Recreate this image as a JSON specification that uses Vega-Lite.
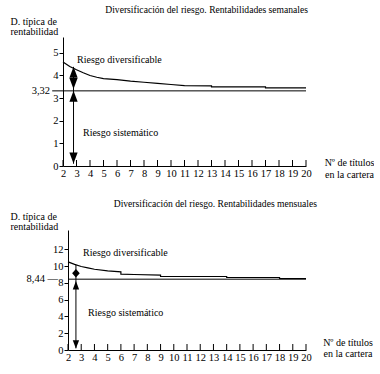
{
  "$schema": "https://vega.github.io/schema/vega-lite/v6.json",
  "padding": {"left": 10, "top": 4, "right": 0, "bottom": 0},
  "spacing": 20,
  "config": {
    "font": "Liberation Serif, Times New Roman, Times, serif",
    "view": {"stroke": null},
    "axis": {"grid": false, "domainColor": "black", "tickColor": "black", "labelColor": "black", "titleColor": "black", "labelFont": "Liberation Serif, Times New Roman, Times, serif", "titleFont": "Liberation Serif, Times New Roman, Times, serif", "labelFontSize": 10.5, "titleFontSize": 10, "titleFontWeight": "normal", "labelOverlap": false, "labelFlush": false},
    "title": {"font": "Liberation Serif, Times New Roman, Times, serif", "fontSize": 9.6, "fontWeight": "normal", "color": "black", "anchor": "end", "frame": "group", "offset": 2},
    "text": {"font": "Liberation Serif, Times New Roman, Times, serif", "fontSize": 10, "color": "black"}
  },
  "datasets": {
    "ticks": [
      {"n": 2, "sd": 0}, {"n": 3, "sd": 0}, {"n": 4, "sd": 0}, {"n": 5, "sd": 0}, {"n": 6, "sd": 0}, {"n": 7, "sd": 0},
      {"n": 8, "sd": 0}, {"n": 9, "sd": 0}, {"n": 10, "sd": 0}, {"n": 11, "sd": 0}, {"n": 12, "sd": 0}, {"n": 13, "sd": 0},
      {"n": 14, "sd": 0}, {"n": 15, "sd": 0}, {"n": 16, "sd": 0}, {"n": 17, "sd": 0}, {"n": 18, "sd": 0}, {"n": 19, "sd": 0},
      {"n": 20, "sd": 0}
    ],
    "curveS": [
      {"i": 0, "n": 2, "sd": 4.60}, {"i": 1, "n": 2.5, "sd": 4.40}, {"i": 2, "n": 3, "sd": 4.25}, {"i": 3, "n": 3.5, "sd": 4.12},
      {"i": 4, "n": 4, "sd": 4.00}, {"i": 5, "n": 4.5, "sd": 3.92}, {"i": 6, "n": 5, "sd": 3.86}, {"i": 7, "n": 6, "sd": 3.82},
      {"i": 8, "n": 7, "sd": 3.75}, {"i": 9, "n": 8, "sd": 3.70}, {"i": 10, "n": 9, "sd": 3.65}, {"i": 11, "n": 10, "sd": 3.60},
      {"i": 12, "n": 11, "sd": 3.55}, {"i": 13, "n": 13, "sd": 3.54}, {"i": 14, "n": 13, "sd": 3.50}, {"i": 15, "n": 17, "sd": 3.50},
      {"i": 16, "n": 17, "sd": 3.45}, {"i": 17, "n": 20, "sd": 3.45}
    ],
    "curveM": [
      {"i": 0, "n": 2, "sd": 10.5}, {"i": 1, "n": 2.5, "sd": 10.2}, {"i": 2, "n": 3, "sd": 9.95}, {"i": 3, "n": 3.5, "sd": 9.78},
      {"i": 4, "n": 4, "sd": 9.62}, {"i": 5, "n": 5, "sd": 9.42}, {"i": 6, "n": 6, "sd": 9.32}, {"i": 7, "n": 6, "sd": 9.05},
      {"i": 8, "n": 7, "sd": 9.0}, {"i": 9, "n": 9, "sd": 8.92}, {"i": 10, "n": 9, "sd": 8.78}, {"i": 11, "n": 14, "sd": 8.76},
      {"i": 12, "n": 14, "sd": 8.64}, {"i": 13, "n": 18, "sd": 8.64}, {"i": 14, "n": 18, "sd": 8.52}, {"i": 15, "n": 20, "sd": 8.52}
    ],
    "pointsS": [
      {"n": 2.78, "sd": 4.14, "dir": "up"}, {"n": 2.78, "sd": 3.64, "dir": "down"},
      {"n": 2.78, "sd": 3.08, "dir": "up"}, {"n": 2.78, "sd": 0.35, "dir": "down"}
    ],
    "pointsM": [
      {"n": 2.6, "sd": 9.14, "dir": "both"}, {"n": 2.6, "sd": 7.72, "dir": "up"}, {"n": 2.6, "sd": 0.67, "dir": "down"}
    ],
    "labelsS": [
      {"n": 3.04, "sd": 4.68, "label": "Riesgo diversificable"},
      {"n": 3.48, "sd": 1.46, "label": "Riesgo sistemático"}
    ],
    "labelsM": [
      {"n": 3.14, "sd": 11.6, "label": "Riesgo diversificable"},
      {"n": 3.52, "sd": 4.37, "label": "Riesgo sistemático"}
    ]
  },
  "vconcat": [
    {
      "width": 243,
      "height": 129,
      "title": {"text": "Diversificación del riesgo. Rentabilidades semanales", "dx": 2},
      "encoding": {
        "x": {"field": "n", "type": "quantitative", "scale": {"domain": [2, 20], "nice": false, "zero": false},
          "axis": {"values": [2,3,4,5,6,7,8,9,10,11,12,13,14,15,16,17,18,19,20], "title": ["Nº de títulos", "en la cartera"], "titleX": 286, "titleY": -1, "titleAlign": "center", "titleBaseline": "alphabetic", "titleLineHeight": 12, "ticks": false, "labelPadding": 2, "labelOverlap": false}},
        "y": {"field": "sd", "type": "quantitative", "scale": {"domain": [0, 5.7], "nice": false},
          "axis": {"values": [0,1,2,3,4,5], "title": ["D. típica de", "rentabilidad"], "titleAngle": 0, "titleAlign": "left", "titleBaseline": "alphabetic", "titleX": -53, "titleY": -12.7, "titleLineHeight": 10, "tickSize": 4, "labelPadding": 1, "labelOverlap": false}}
      },
      "layer": [
        {
          "data": {"name": "ticks"},
          "mark": {"type": "tick", "orient": "vertical", "size": 6, "thickness": 1, "yOffset": -3, "color": "black", "opacity": 1}
        },
        {
          "data": {"name": "curveS"},
          "mark": {"type": "line", "color": "black", "strokeWidth": 1.2},
          "encoding": {"order": {"field": "i", "type": "quantitative"}}
        },
        {
          "data": {"values": [{"n": 1.2, "n1": 20, "sd": 3.32}]},
          "mark": {"type": "rule", "color": "black", "strokeWidth": 1},
          "encoding": {"x2": {"field": "n1"}}
        },
        {
          "data": {"values": [{"n": 2, "sd": 3.32, "label": "3,32"}]},
          "mark": {"type": "text", "align": "right", "baseline": "middle", "dx": -13, "fontSize": 10.5},
          "encoding": {"text": {"field": "label"}}
        },
        {
          "data": {"values": [{"n": 2.78, "sd": 0.1, "hi": 4.38}]},
          "mark": {"type": "rule", "color": "black", "strokeWidth": 1},
          "encoding": {"y2": {"field": "hi"}}
        },
        {
          "data": {"name": "pointsS"},
          "mark": {"type": "point", "filled": true, "color": "black", "opacity": 1, "size": 121},
          "encoding": {
            "shape": {"field": "dir", "type": "nominal", "scale": {"domain": ["up", "down", "both"], "range": ["M0,-1L0.75,1L-0.75,1Z", "M0,1L0.75,-1L-0.75,-1Z", "M0,-1L0.9,0L0,1L-0.9,0Z"]}, "legend": null}
          }
        },
        {
          "data": {"name": "labelsS"},
          "mark": {"type": "text", "align": "left", "baseline": "middle"},
          "encoding": {"text": {"field": "label"}}
        }
      ]
    },
    {
      "width": 243,
      "height": 120,
      "title": {"text": "Diversificación del riesgo. Rentabilidades mensuales", "dx": 11},
      "encoding": {
        "x": {"field": "n", "type": "quantitative", "scale": {"domain": [2, 20], "nice": false, "zero": false, "range": [5, 243]},
          "axis": {"values": [2,3,4,5,6,7,8,9,10,11,12,13,14,15,16,17,18,19,20], "title": ["Nº de títulos", "en la cartera"], "titleX": 284.5, "titleY": -4.7, "titleAlign": "center", "titleBaseline": "alphabetic", "titleLineHeight": 11, "ticks": false, "labelPadding": 2, "labelOverlap": false}},
        "y": {"field": "sd", "type": "quantitative", "scale": {"domain": [0, 14.3], "nice": false},
          "axis": {"values": [0,2,4,6,8,10,12], "offset": -5, "title": ["D. típica de", "rentabilidad"], "titleAngle": 0, "titleAlign": "left", "titleBaseline": "alphabetic", "titleX": -58, "titleY": -11, "titleLineHeight": 10.5, "tickSize": 4, "labelPadding": 1, "labelOverlap": false}}
      },
      "layer": [
        {
          "data": {"name": "ticks"},
          "mark": {"type": "tick", "orient": "vertical", "size": 6, "thickness": 1, "yOffset": -3, "color": "black", "opacity": 1}
        },
        {
          "data": {"name": "curveM"},
          "mark": {"type": "line", "color": "black", "strokeWidth": 1.2},
          "encoding": {"order": {"field": "i", "type": "quantitative"}}
        },
        {
          "data": {"values": [{"n": 2, "n1": 20, "sd": 8.44}]},
          "mark": {"type": "rule", "color": "black", "strokeWidth": 1},
          "encoding": {"x2": {"field": "n1"}}
        },
        {
          "data": {"values": [{"n": 2, "sd": 8.44, "label": "8,44 —"}]},
          "mark": {"type": "text", "align": "right", "baseline": "middle", "dx": -10, "fontSize": 10.5},
          "encoding": {"text": {"field": "label"}}
        },
        {
          "data": {"values": [{"n": 2.6, "sd": 0.2, "hi": 10.15}]},
          "mark": {"type": "rule", "color": "black", "strokeWidth": 1},
          "encoding": {"y2": {"field": "hi"}}
        },
        {
          "data": {"name": "pointsM"},
          "mark": {"type": "point", "filled": true, "color": "black", "opacity": 1, "size": 72},
          "encoding": {
            "shape": {"field": "dir", "type": "nominal", "scale": {"domain": ["up", "down", "both"], "range": ["M0,-1L0.75,1L-0.75,1Z", "M0,1L0.75,-1L-0.75,-1Z", "M0,-1L0.9,0L0,1L-0.9,0Z"]}, "legend": null}
          }
        },
        {
          "data": {"name": "labelsM"},
          "mark": {"type": "text", "align": "left", "baseline": "middle"},
          "encoding": {"text": {"field": "label"}}
        }
      ]
    }
  ]
}
